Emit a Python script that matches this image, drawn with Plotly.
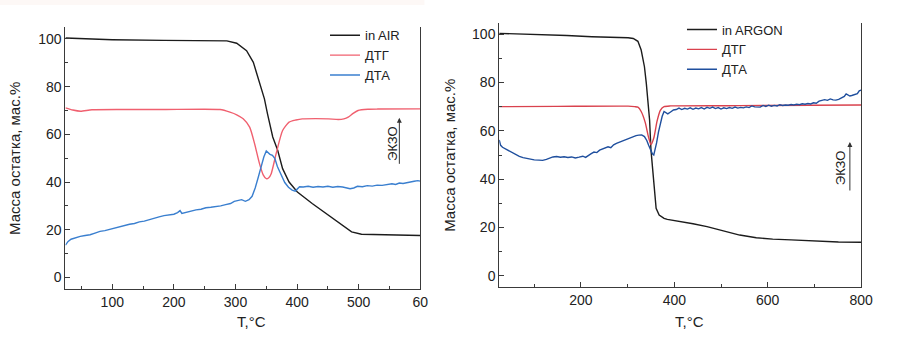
import plotly.graph_objects as go

# ---------- thermal analysis in air (left panel) ----------
air_tg_t = [24, 35, 51, 100, 184, 250, 286, 302, 318, 329, 339, 347, 352, 360.5,
            368.5, 376.5, 387, 400.5, 424.5, 451, 472.5, 488.5, 504.5, 531, 600]
air_tg_v = [100.4, 100.3, 99.9, 99.7, 99.4, 99.3, 99.2, 98.2, 95.1, 90.2, 81.2, 74.9, 68.6, 58.9,
            53.3, 45.6, 40.0, 35.8, 31.0, 26.1, 21.9, 19.1, 18.1, 17.9, 17.6]

air_dtg_t = [24, 36, 48.5, 67, 120, 184, 275, 291, 302, 312.5, 323, 331, 339, 345, 350, 354,
             358, 366, 376.5, 387, 398, 408.5, 430, 451, 467, 476, 483, 491, 499, 515, 531, 600]
air_dtg_v = [71.1, 70.2, 69.7, 70.3, 70.4, 70.4, 70.4, 69.3, 68.2, 66.5, 63.0, 56.1, 47.7, 43.0, 41.4, 41.8,
             43.5, 51.9, 61.6, 65.1, 66.0, 66.5, 66.6, 66.5, 66.2, 66.5, 67.2, 68.8, 70.0, 70.5, 70.6, 70.7]

air_dta_t = [24, 28, 33, 40, 48, 56, 64, 72, 80, 88, 96, 104, 112, 120, 128, 136, 144, 152, 160,
             168, 176, 184, 192, 200, 206, 210, 213, 220, 228, 236, 244, 252, 260, 268, 276, 284,
             292, 298, 304, 310, 316, 322, 327, 332, 337, 342, 346, 350, 353, 356, 360, 364, 368,
             372, 376, 380, 386, 392, 397, 400, 404, 410, 418, 426, 434, 442, 450, 458, 466, 474,
             480, 486, 492, 498, 506, 514, 522, 530, 538, 546, 554, 560, 566, 572, 578, 584, 590,
             596, 600]
air_dta_v = [13.5, 15.0, 16.0, 16.6, 17.2, 17.6, 17.9, 18.6, 19.3, 19.6, 20.2, 20.8, 21.3, 21.9,
             22.3, 22.6, 23.3, 23.6, 24.3, 24.8, 25.4, 25.9, 26.3, 26.5, 27.2, 28.0, 26.8, 27.3,
             27.7, 28.3, 28.6, 29.2, 29.4, 29.6, 30.0, 30.5, 31.0, 31.9, 32.2, 32.6, 31.9, 32.6,
             34.0, 37.5, 42.0, 47.2, 50.5, 53.0, 52.2, 51.6, 51.2, 49.8, 46.5, 44.0, 41.5, 39.8,
             37.8, 36.6, 36.2, 36.8, 38.0, 37.9, 38.2, 37.8, 38.1, 37.9, 38.2, 37.8, 38.1, 37.9,
             37.7, 37.2, 37.5, 38.2, 38.0, 38.5, 38.3, 38.7, 38.6, 38.9, 39.3, 39.0, 39.6, 39.4,
             39.8, 39.9, 40.3, 40.6, 40.4]

# ---------- thermal analysis in argon (right panel) ----------
ar_tg_t = [25, 60, 118, 170, 223.5, 270, 301, 312, 318.5, 322, 329, 336, 340, 343, 347, 350,
           354, 357, 361, 367.5, 378, 385, 413.5, 440, 470, 505, 540, 575.5, 610.7, 650, 681,
           720, 751.5, 800]
ar_tg_v = [100.3, 100.1, 99.9, 99.4, 98.9, 98.8, 98.5, 98.2, 97.5, 97.0, 93.4, 86.5, 79.6, 74.1,
           64.5, 52.0, 42.4, 34.2, 28.0, 25.2, 23.8, 23.4, 22.5, 21.6, 20.4, 18.7, 16.9, 15.8,
           15.2, 14.9, 14.6, 14.3, 14.0, 13.9]

ar_dtg_t = [25, 150, 301, 315, 322, 329, 337.6, 344.6, 350, 356, 363, 370, 378, 392, 540, 800]
ar_dtg_v = [70.0, 70.1, 70.2, 70.0, 69.8, 68.0, 63.5, 57.5, 54.3, 57.0, 64.0, 68.5, 70.0, 70.3,
            70.4, 70.7]

ar_dta_t = [25, 28, 32, 38, 45, 52, 60, 68, 76, 84, 92, 100, 110, 118, 126, 134, 140, 148, 156,
            164, 172, 180, 188, 196, 204, 210, 216, 222, 228, 234, 240, 246, 252, 258, 264, 270,
            276, 282, 288, 294, 300, 306, 312, 318, 324, 330, 336, 341, 345, 349, 353, 356, 359,
            362, 366, 370, 374, 378, 382, 386, 392, 398, 404, 410, 416, 422, 428, 434, 440, 446,
            452, 458, 464, 470, 476, 482, 488, 494, 500, 506, 512, 518, 524, 530, 536, 542, 548,
            554, 560, 566, 572, 578, 584, 590, 596, 602, 608, 614, 620, 626, 632, 638, 644, 650,
            656, 662, 668, 674, 680, 686, 692, 698, 704, 710, 716, 722, 728, 734, 740, 746, 752,
            758, 764, 768, 772, 776, 780, 786, 792, 796, 800]
ar_dta_v = [56.2, 54.0, 53.2, 52.6, 51.6, 51.0, 50.2, 49.4, 48.9, 48.5, 48.3, 48.0, 47.9, 47.8,
            48.2, 48.8, 49.2, 49.4, 49.1, 49.3, 49.0, 49.2, 48.8, 49.1, 49.5, 49.0, 50.0, 50.6,
            51.2, 51.0, 52.0, 52.4, 52.8, 53.4, 53.0, 54.2, 54.8, 55.3, 55.7, 56.0, 56.6, 57.3,
            57.6, 58.0, 58.2, 58.3, 57.6, 56.0, 54.0, 52.0, 50.5, 50.0, 52.0, 55.0, 59.5, 63.0,
            66.0, 68.0, 67.6, 67.0, 67.8, 68.6, 68.8, 69.4, 68.8, 69.3, 69.0, 69.5, 68.9, 69.4,
            69.1, 69.6, 69.0, 69.7, 69.3, 69.8, 69.2, 69.6, 69.0, 69.5, 69.2, 69.6, 69.3, 69.8,
            69.4, 69.7, 69.5, 69.9, 69.6, 70.3, 69.9, 70.0, 69.8, 70.5, 70.1, 70.6, 70.2, 70.5,
            70.3, 70.8, 70.5, 70.7, 70.6, 70.9, 70.7, 71.0, 70.8, 71.2, 71.0, 71.3, 71.1, 71.6,
            71.4, 72.3, 72.6, 72.9, 72.6, 73.2, 72.8, 72.7, 73.0, 73.6, 74.2, 75.3, 75.0, 74.4,
            74.6, 75.0, 75.4, 76.5, 76.8]

air_names = ["in AIR", "ДТГ", "ДТА"]
ar_names = ["in ARGON", "ДТГ", "ДТА"]
air_xticks = [100, 200, 300, 400, 500, 600]
air_xticktext = ["100", "200", "300", "400", "500", "60"]
ar_xticks = [200, 400, 600, 800]
y_ticks = [0, 20, 40, 60, 80, 100]

FONT = "Liberation Sans, Arial, sans-serif"
INK = "#222222"
AXIS = "#3a3a3a"

fig = go.Figure()

# left panel curves
fig.add_trace(go.Scatter(x=air_tg_t, y=air_tg_v, name=air_names[0], mode="lines",
                         line=dict(color="#1c1c1c", width=1.4), xaxis="x", yaxis="y",
                         legend="legend"))
fig.add_trace(go.Scatter(x=air_dtg_t, y=air_dtg_v, name=air_names[1], mode="lines",
                         line=dict(color="#f0606f", width=1.4, shape="spline", smoothing=0.6),
                         xaxis="x", yaxis="y", legend="legend"))
fig.add_trace(go.Scatter(x=air_dta_t, y=air_dta_v, name=air_names[2], mode="lines",
                         line=dict(color="#3a7fcf", width=1.4), xaxis="x", yaxis="y",
                         legend="legend"))

# right panel curves
fig.add_trace(go.Scatter(x=ar_tg_t, y=ar_tg_v, name=ar_names[0], mode="lines",
                         line=dict(color="#1c1c1c", width=1.4), xaxis="x2", yaxis="y2",
                         legend="legend2"))
fig.add_trace(go.Scatter(x=ar_dtg_t, y=ar_dtg_v, name=ar_names[1], mode="lines",
                         line=dict(color="#d9424e", width=1.4, shape="spline", smoothing=0.6),
                         xaxis="x2", yaxis="y2", legend="legend2"))
fig.add_trace(go.Scatter(x=ar_dta_t, y=ar_dta_v, name=ar_names[2], mode="lines",
                         line=dict(color="#1f4f9e", width=1.4), xaxis="x2", yaxis="y2",
                         legend="legend2"))

axis_common = dict(showgrid=False, zeroline=False, showline=True, linecolor=AXIS,
                   linewidth=1, ticks="inside", ticklen=5, tickcolor=AXIS,
                   tickfont=dict(family=FONT, size=14, color=INK))

fig.update_layout(
    width=900, height=338,
    margin=dict(l=0, r=0, t=0, b=0),
    paper_bgcolor="white", plot_bgcolor="white",
    font=dict(family=FONT, color=INK),
    xaxis=dict(domain=[0.0737, 0.4733], range=[24, 600], tickvals=air_xticks,
               ticktext=air_xticktext, anchor="y",
               minor=dict(ticks="inside", ticklen=3, dtick=50, tick0=0, tickcolor=AXIS),
               **axis_common),
    yaxis=dict(domain=[0.144, 0.920], range=[-5, 105], tickvals=y_ticks, anchor="x",
               mirror=True,
               minor=dict(ticks="inside", ticklen=3, dtick=10, tick0=0, tickcolor=AXIS),
               **axis_common),
    xaxis2=dict(domain=[0.5622, 0.9697], range=[25, 800], tickvals=ar_xticks, anchor="y2",
                minor=dict(ticks="inside", ticklen=3, dtick=100, tick0=0, tickcolor=AXIS),
                **axis_common),
    yaxis2=dict(domain=[0.150, 0.9328], range=[-4.7, 104.7], tickvals=y_ticks, anchor="x2",
                mirror=True,
                minor=dict(ticks="inside", ticklen=3, dtick=10, tick0=0, tickcolor=AXIS),
                **axis_common),
    legend=dict(x=0.366, y=0.94, xanchor="left", yanchor="top", bgcolor="rgba(0,0,0,0)",
                font=dict(family=FONT, size=13, color=INK), itemwidth=30,
                tracegroupgap=0),
    legend2=dict(x=0.768, y=0.957, xanchor="left", yanchor="top", bgcolor="rgba(0,0,0,0)",
                 font=dict(family=FONT, size=13, color=INK), itemwidth=30,
                 tracegroupgap=0),
    showlegend=True,
)

# faint strip along the top edge of the left panel
fig.add_shape(type="rect", xref="paper", yref="paper", x0=0, x1=0.478, y0=0.985, y1=1,
              line=dict(width=0), fillcolor="#fdf8f6", layer="below")

# axis titles
ytitle = "Масса остатка, мас.%"
for xp, yp in [(0.017, 0.53), (0.506, 0.54)]:
    fig.add_annotation(text=ytitle, xref="paper", yref="paper", x=xp, y=yp,
                       xanchor="center", yanchor="middle",
                       textangle=-90, showarrow=False,
                       font=dict(family=FONT, size=15, color=INK))
for xp in [0.283, 0.776]:
    fig.add_annotation(text="T,°C", xref="paper", yref="paper", x=xp, y=0.048,
                       xanchor="center", yanchor="middle",
                       showarrow=False, font=dict(family=FONT, size=15, color=INK))

# "exo" direction markers
for xr, yr, tx, ty, ax_x, ay_lo, ay_hi in [("x", "y", 555, 56.2, 566, 47, 67),
                                            ("x2", "y2", 755, 44.6, 776, 34.7, 55.4)]:
    fig.add_annotation(text="ЭКЗО", xref=xr, yref=yr, x=tx, y=ty, textangle=-90,
                       showarrow=False, font=dict(family=FONT, size=13, color=INK))
    fig.add_annotation(text="", xref=xr, yref=yr, x=ax_x, y=ay_hi, axref=xr, ayref=yr,
                       ax=ax_x, ay=ay_lo, showarrow=True, arrowhead=2, arrowsize=1,
                       arrowwidth=1, arrowcolor="#333333")

fig.write_html("out.html")
